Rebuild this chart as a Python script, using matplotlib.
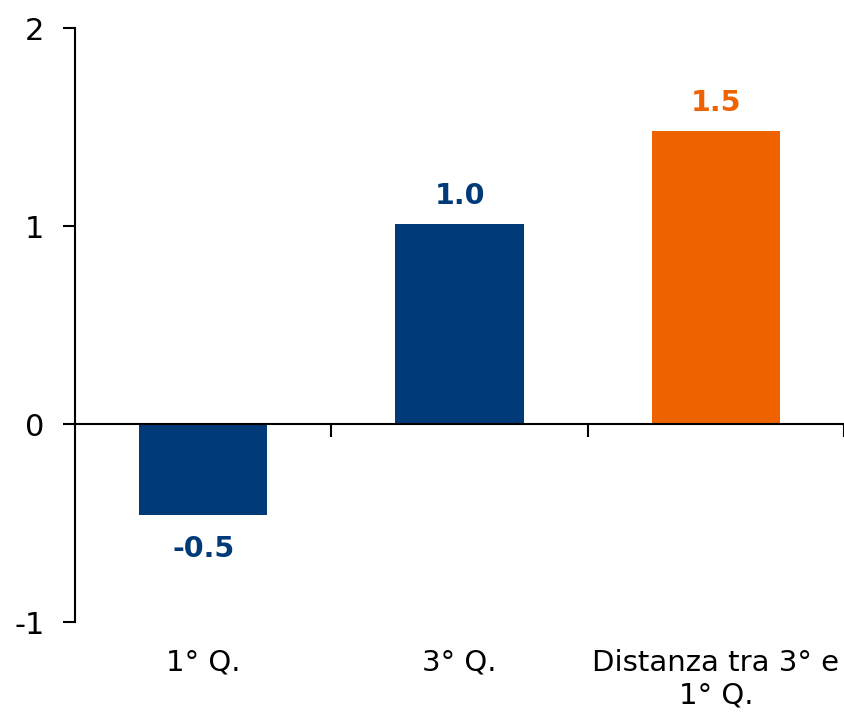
import matplotlib
matplotlib.use("Agg")
import matplotlib.pyplot as plt
from matplotlib.transforms import blended_transform_factory

# dati
categorie = ["1° Q.", "3° Q.", "Distanza tra 3° e\n1° Q."]
valori = [-0.46, 1.01, 1.48]
etichette = ["-0.5", "1.0", "1.5"]
colori = ["#003A78", "#003A78", "#EE6200"]

plt.rcParams['font.family'] = ['DejaVu Sans']

fig = plt.figure(figsize=(8.44, 7.15), dpi=100)
ax = fig.add_axes([75 / 844, 1 - 622 / 715, 1 - 75 / 844, 594 / 715])

x = list(range(len(categorie)))
ax.bar(x, valori, width=0.5, color=colori, zorder=2)

ax.set_xlim(-0.5, 2.5)
ax.set_ylim(-1, 2)
ax.set_yticks([-1, 0, 1, 2])
ax.set_yticklabels(["-1", "0", "1", "2"])

# asse x sullo zero, tacche tra le categorie
ax.spines['top'].set_visible(False)
ax.spines['right'].set_visible(False)
ax.spines['bottom'].set_position(('data', 0))
ax.spines['bottom'].set_linewidth(1.5)
ax.spines['left'].set_linewidth(1.5)
ax.set_xticks([0.5, 1.5, 2.5])
ax.set_xticklabels([])
ax.tick_params(axis='x', direction='out', length=9, width=1.5)
ax.tick_params(axis='y', direction='out', length=9, width=1.5, labelsize=22, pad=13)

# etichette categorie sotto il grafico
trans = blended_transform_factory(ax.transData, ax.transAxes)
for xi, cat in zip(x, categorie):
    ax.text(xi, -0.045, cat, transform=trans, ha='center', va='top',
            fontsize=21, linespacing=1.2)

# etichette valori
for xi, v, lab, c in zip(x, valori, etichette, colori):
    if v >= 0:
        ax.text(xi, v + 0.07, lab, ha='center', va='bottom', fontsize=20.5,
                fontweight='bold', color=c)
    else:
        ax.text(xi, v - 0.1, lab, ha='center', va='top', fontsize=20.5,
                fontweight='bold', color=c)

fig.savefig("out.png", dpi=100)
